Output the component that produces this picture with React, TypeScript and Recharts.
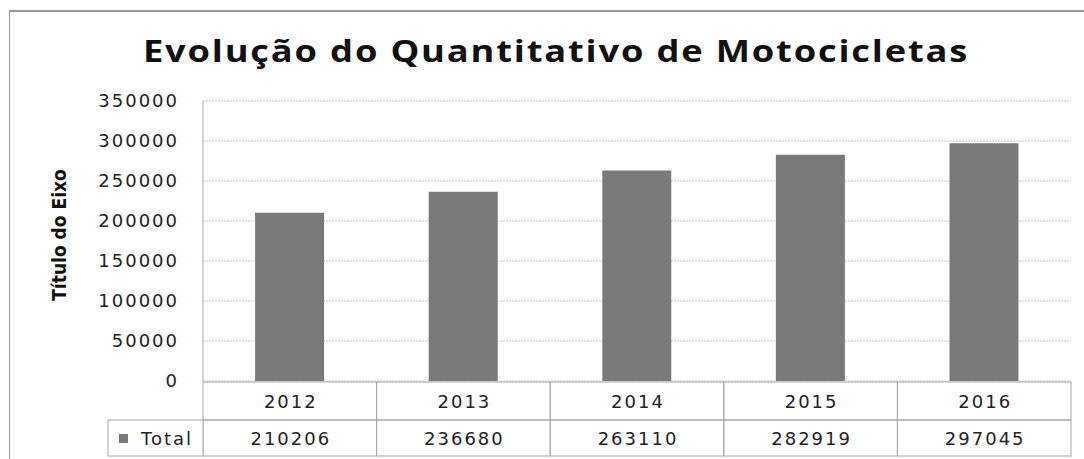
import { BarChart, Bar, XAxis, YAxis, CartesianGrid } from "recharts";

const years = ["2012", "2013", "2014", "2015", "2016"];
const totals = [210206, 236680, 263110, 282919, 297045];
const yTicks = [0, 50000, 100000, 150000, 200000, 250000, 300000, 350000];

const data = years.map((year, i) => ({ year, total: totals[i] }));

const W = 1084;
const H = 459;
const PLOT_LEFT = 203;
const PLOT_RIGHT = 1071;
const BAND = (PLOT_RIGHT - PLOT_LEFT) / years.length;
const LEGEND_LEFT = 108;
const LINE = "#a8a8a8";
const TXT = "#222";
const NUM_FONT = "'DejaVu Sans', sans-serif";

function YearTick(props: any) {
  const { x, y, payload } = props;
  return (
    <g>
      <rect x={x - BAND / 2} y={y + 1} width={BAND} height={38} fill="none" stroke={LINE} />
      <text
        x={x + 1}
        y={y + 27}
        textAnchor="middle"
        fontFamily={NUM_FONT}
        fontSize={18}
        letterSpacing={2}
        fill={TXT}
      >
        {payload.value}
      </text>
    </g>
  );
}

function ValueTick(props: any) {
  const { x, y, index } = props;
  return (
    <g>
      <rect x={x - BAND / 2} y={y + 1} width={BAND} height={36} fill="none" stroke={LINE} />
      <text
        x={x + 1}
        y={y + 26}
        textAnchor="middle"
        fontFamily={NUM_FONT}
        fontSize={18}
        letterSpacing={2}
        fill={TXT}
      >
        {totals[index]}
      </text>
      {index === 0 && (
        <g>
          <rect
            x={LEGEND_LEFT}
            y={y + 1}
            width={PLOT_LEFT - LEGEND_LEFT}
            height={36}
            fill="#fff"
            stroke={LINE}
          />
          <rect x={119} y={y + 15} width={9} height={9} fill="#7a7a7a" />
          <text
            x={141}
            y={y + 26}
            fontFamily={NUM_FONT}
            fontSize={18}
            letterSpacing={2}
            fill={TXT}
          >
            Total
          </text>
        </g>
      )}
    </g>
  );
}

function AxisTitle() {
  return (
    <text
      x={0}
      y={0}
      transform="translate(66,235) rotate(-90)"
      textAnchor="middle"
      fontFamily="'Liberation Sans Narrow', 'DejaVu Sans Condensed', sans-serif"
      fontWeight="bold"
      fontSize={19}
      fill="#111"
    >
      Título do Eixo
    </text>
  );
}

export default function App() {
  return (
    <div
      style={{
        position: "fixed",
        left: 0,
        top: 0,
        width: W,
        height: H,
        overflow: "hidden",
        background: "#fff",
      }}
    >
      <style>{"html,body{margin:0;overflow:hidden}"}</style>
      {/* outer frame, only the top and left edges are in view */}
      <div style={{ position: "absolute", left: 9, top: 10, width: W - 9, height: 2, background: "#999" }} />
      <div style={{ position: "absolute", left: 9, top: 10, width: 1, height: H - 10, background: "#999" }} />
      <div
        style={{
          position: "absolute",
          left: 0,
          top: 31,
          width: W,
          paddingLeft: 28,
          boxSizing: "border-box",
          textAlign: "center",
          fontFamily: "'Open Sans', sans-serif",
          fontWeight: 700,
          fontSize: 30,
          letterSpacing: 1.5,
          color: "#111",
          lineHeight: "40px",
          whiteSpace: "nowrap",
          transform: "scaleX(1.21)",
          transformOrigin: "556px 0",
        }}
      >
        Evolução do Quantitativo de Motocicletas
      </div>
      <div style={{ position: "absolute", left: 0, top: 0 }}>
        <BarChart
          width={W}
          height={H}
          data={data}
          margin={{ top: 101, right: W - PLOT_RIGHT, bottom: 4, left: 0 }}
          barCategoryGap="30%"
        >
          <CartesianGrid
            vertical={false}
            stroke="#c4c4c4"
            strokeDasharray="2 1"
          />
          <XAxis
            dataKey="year"
            height={38}
            tickSize={0}
            tickMargin={0}
            axisLine={false}
            tick={<YearTick />}
            interval={0}
          />
          <XAxis
            xAxisId="val"
            dataKey="year"
            height={36}
            tickSize={0}
            tickMargin={0}
            axisLine={false}
            tick={<ValueTick />}
            interval={0}
          />
          <YAxis
            width={PLOT_LEFT}
            domain={[0, 350000]}
            ticks={yTicks}
            interval={0}
            tickSize={0}
            tickMargin={24}
            axisLine={{ stroke: LINE }}
            tick={{ fontFamily: NUM_FONT, fontSize: 18, letterSpacing: 2, fill: TXT }}
            label={<AxisTitle />}
          />
          <Bar dataKey="total" fill="#7a7a7a" isAnimationActive={false} />
        </BarChart>
      </div>
    </div>
  );
}
